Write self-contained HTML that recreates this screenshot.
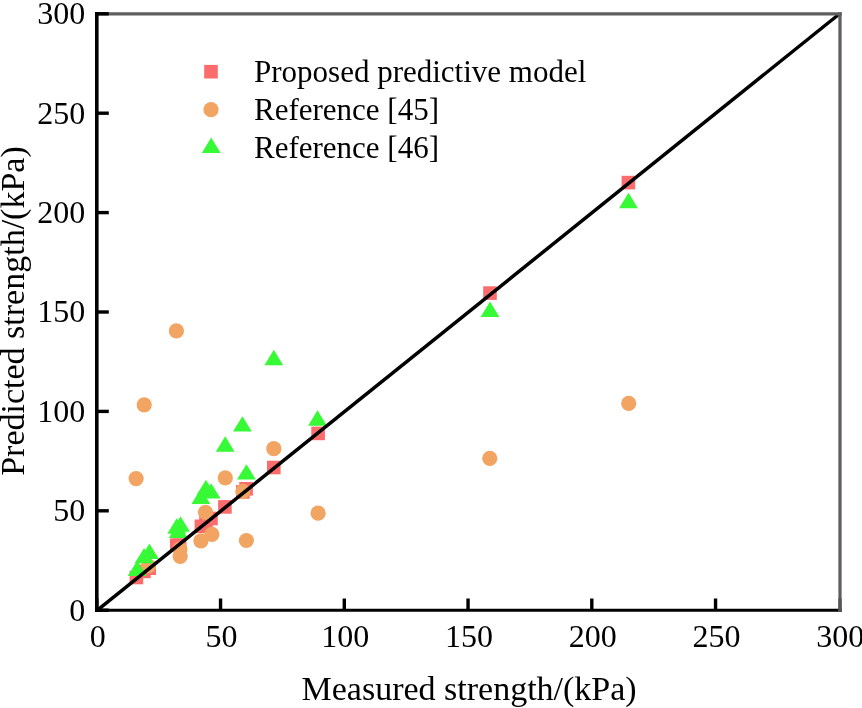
<!DOCTYPE html>
<html><head><meta charset="utf-8"><style>
html,body{margin:0;padding:0;background:#fff;width:862px;height:708px;overflow:hidden}
svg{display:block;will-change:transform}
text{font-family:"Liberation Serif",serif;fill:#000}
</style></head><body>
<svg width="862" height="708" viewBox="0 0 862 708"><rect width="862" height="708" fill="#fff"/>
<rect x="129.60" y="570.70" width="13.6" height="13.6" fill="#FC6C6C"/>
<rect x="137.10" y="564.60" width="13.6" height="13.6" fill="#FC6C6C"/>
<rect x="142.40" y="561.40" width="13.6" height="13.6" fill="#FC6C6C"/>
<rect x="170.00" y="538.40" width="13.6" height="13.6" fill="#FC6C6C"/>
<rect x="172.80" y="538.40" width="13.6" height="13.6" fill="#FC6C6C"/>
<rect x="194.60" y="519.50" width="13.6" height="13.6" fill="#FC6C6C"/>
<rect x="199.20" y="515.90" width="13.6" height="13.6" fill="#FC6C6C"/>
<rect x="204.20" y="511.70" width="13.6" height="13.6" fill="#FC6C6C"/>
<rect x="218.10" y="500.10" width="13.6" height="13.6" fill="#FC6C6C"/>
<rect x="236.00" y="485.10" width="13.6" height="13.6" fill="#FC6C6C"/>
<rect x="239.30" y="482.00" width="13.6" height="13.6" fill="#FC6C6C"/>
<rect x="267.00" y="460.70" width="13.6" height="13.6" fill="#FC6C6C"/>
<rect x="311.30" y="426.60" width="13.6" height="13.6" fill="#FC6C6C"/>
<rect x="483.20" y="286.30" width="13.6" height="13.6" fill="#FC6C6C"/>
<rect x="621.60" y="175.80" width="13.6" height="13.6" fill="#FC6C6C"/>
<circle cx="136.10" cy="478.60" r="7.6" fill="#F2A462"/>
<circle cx="144.20" cy="404.80" r="7.6" fill="#F2A462"/>
<circle cx="148.50" cy="566.00" r="7.6" fill="#F2A462"/>
<circle cx="176.40" cy="330.90" r="7.6" fill="#F2A462"/>
<circle cx="180.00" cy="549.00" r="7.6" fill="#F2A462"/>
<circle cx="180.20" cy="556.50" r="7.6" fill="#F2A462"/>
<circle cx="200.90" cy="540.80" r="7.6" fill="#F2A462"/>
<circle cx="205.50" cy="512.30" r="7.6" fill="#F2A462"/>
<circle cx="211.90" cy="534.40" r="7.6" fill="#F2A462"/>
<circle cx="225.30" cy="477.90" r="7.6" fill="#F2A462"/>
<circle cx="242.80" cy="491.40" r="7.6" fill="#F2A462"/>
<circle cx="246.40" cy="540.50" r="7.6" fill="#F2A462"/>
<circle cx="273.80" cy="448.70" r="7.6" fill="#F2A462"/>
<circle cx="318.10" cy="513.20" r="7.6" fill="#F2A462"/>
<circle cx="489.80" cy="458.30" r="7.6" fill="#F2A462"/>
<circle cx="628.70" cy="403.40" r="7.6" fill="#F2A462"/>
<path d="M137.20 560.50L146.60 575.90L127.80 575.90Z" fill="#36FA36"/>
<path d="M144.10 547.90L153.50 563.30L134.70 563.30Z" fill="#36FA36"/>
<path d="M149.40 543.60L158.80 559.00L140.00 559.00Z" fill="#36FA36"/>
<path d="M176.70 518.30L186.10 533.70L167.30 533.70Z" fill="#36FA36"/>
<path d="M178.20 522.70L187.60 538.10L168.80 538.10Z" fill="#36FA36"/>
<path d="M180.50 516.30L189.90 531.70L171.10 531.70Z" fill="#36FA36"/>
<path d="M200.90 488.50L210.30 503.90L191.50 503.90Z" fill="#36FA36"/>
<path d="M205.90 479.80L215.30 495.20L196.50 495.20Z" fill="#36FA36"/>
<path d="M211.10 483.20L220.50 498.60L201.70 498.60Z" fill="#36FA36"/>
<path d="M225.20 436.30L234.60 451.70L215.80 451.70Z" fill="#36FA36"/>
<path d="M242.40 416.20L251.80 431.60L233.00 431.60Z" fill="#36FA36"/>
<path d="M246.40 464.20L255.80 479.60L237.00 479.60Z" fill="#36FA36"/>
<path d="M273.80 349.80L283.20 365.20L264.40 365.20Z" fill="#36FA36"/>
<path d="M317.50 410.30L326.90 425.70L308.10 425.70Z" fill="#36FA36"/>
<path d="M490.00 301.60L499.40 317.00L480.60 317.00Z" fill="#36FA36"/>
<path d="M628.50 192.80L637.90 208.20L619.10 208.20Z" fill="#36FA36"/>
<line x1="96.80" y1="610.70" x2="839.30" y2="14.00" stroke="#000" stroke-width="3.5"/>
<line x1="95" y1="13.9" x2="841.8" y2="13.9" stroke="#5e5e5e" stroke-width="3.2"/>
<line x1="96.8" y1="12" x2="96.8" y2="612" stroke="#000" stroke-width="3.6"/>
<line x1="95" y1="610.2" x2="841.8" y2="610.2" stroke="#000" stroke-width="3.0"/>
<line x1="96.8" y1="610.20" x2="108.8" y2="610.20" stroke="#000" stroke-width="3.4"/>
<line x1="96.80" y1="610.3" x2="96.80" y2="598.5" stroke="#000" stroke-width="3.4"/>
<line x1="96.8" y1="510.80" x2="108.8" y2="510.80" stroke="#000" stroke-width="3.4"/>
<line x1="220.55" y1="610.3" x2="220.55" y2="598.5" stroke="#000" stroke-width="3.4"/>
<line x1="96.8" y1="411.40" x2="108.8" y2="411.40" stroke="#000" stroke-width="3.4"/>
<line x1="344.30" y1="610.3" x2="344.30" y2="598.5" stroke="#000" stroke-width="3.4"/>
<line x1="96.8" y1="312.00" x2="108.8" y2="312.00" stroke="#000" stroke-width="3.4"/>
<line x1="468.05" y1="610.3" x2="468.05" y2="598.5" stroke="#000" stroke-width="3.4"/>
<line x1="96.8" y1="212.60" x2="108.8" y2="212.60" stroke="#000" stroke-width="3.4"/>
<line x1="591.80" y1="610.3" x2="591.80" y2="598.5" stroke="#000" stroke-width="3.4"/>
<line x1="96.8" y1="113.20" x2="108.8" y2="113.20" stroke="#000" stroke-width="3.4"/>
<line x1="715.55" y1="610.3" x2="715.55" y2="598.5" stroke="#000" stroke-width="3.4"/>
<line x1="96.8" y1="13.80" x2="108.8" y2="13.80" stroke="#000" stroke-width="3.4"/>
<line x1="840" y1="12.3" x2="840" y2="611.7" stroke="#606060" stroke-width="3.3"/>
<line x1="840" y1="598.5" x2="840" y2="611.7" stroke="#555" stroke-width="3.3"/>
<text x="85.2" y="620.50" text-anchor="end" font-size="32" font-family="Liberation Serif, serif">0</text>
<text x="97.80" y="647.3" text-anchor="middle" font-size="32" font-family="Liberation Serif, serif">0</text>
<text x="85.2" y="521.10" text-anchor="end" font-size="32" font-family="Liberation Serif, serif">50</text>
<text x="221.55" y="647.3" text-anchor="middle" font-size="32" font-family="Liberation Serif, serif">50</text>
<text x="85.2" y="421.70" text-anchor="end" font-size="32" font-family="Liberation Serif, serif">100</text>
<text x="345.30" y="647.3" text-anchor="middle" font-size="32" font-family="Liberation Serif, serif">100</text>
<text x="85.2" y="322.30" text-anchor="end" font-size="32" font-family="Liberation Serif, serif">150</text>
<text x="469.05" y="647.3" text-anchor="middle" font-size="32" font-family="Liberation Serif, serif">150</text>
<text x="85.2" y="222.90" text-anchor="end" font-size="32" font-family="Liberation Serif, serif">200</text>
<text x="592.80" y="647.3" text-anchor="middle" font-size="32" font-family="Liberation Serif, serif">200</text>
<text x="85.2" y="123.50" text-anchor="end" font-size="32" font-family="Liberation Serif, serif">250</text>
<text x="716.55" y="647.3" text-anchor="middle" font-size="32" font-family="Liberation Serif, serif">250</text>
<text x="85.2" y="24.10" text-anchor="end" font-size="32" font-family="Liberation Serif, serif">300</text>
<text x="840.30" y="647.3" text-anchor="middle" font-size="32" font-family="Liberation Serif, serif">300</text>
<text x="301.5" y="700.3" font-size="34" font-family="Liberation Serif, serif">Measured strength/(kPa)</text>
<text transform="translate(24.3 475.8) rotate(-90)" x="0" y="0" font-size="34" font-family="Liberation Serif, serif">Predicted strength/(kPa)</text>
<rect x="204.20" y="64.90" width="13.6" height="13.6" fill="#FC6C6C"/>
<circle cx="211.00" cy="109.70" r="7.6" fill="#F2A462"/>
<path d="M211.20 137.60L220.60 153.00L201.80 153.00Z" fill="#36FA36"/>
<text x="254" y="81.8" font-size="31" font-family="Liberation Serif, serif">Proposed predictive model</text>
<text x="254" y="120" font-size="31" font-family="Liberation Serif, serif">Reference [45]</text>
<text x="254" y="158.1" font-size="31" font-family="Liberation Serif, serif">Reference [46]</text></svg>
</body></html>
